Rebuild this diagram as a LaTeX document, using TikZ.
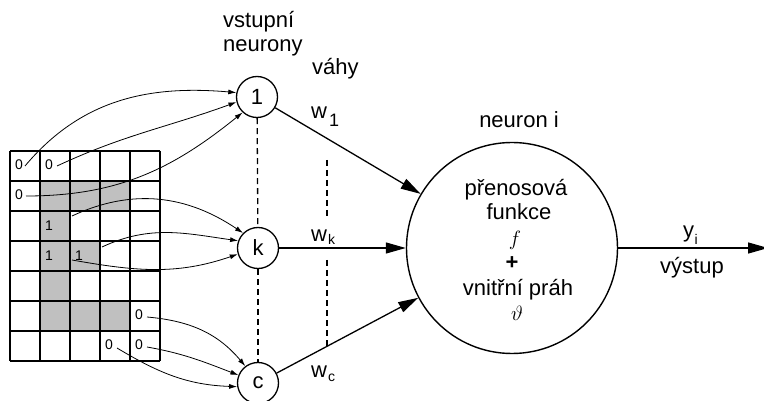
\documentclass[tikz,border=0pt]{standalone}
\usepackage{fontspec}
\setmainfont{Liberation Sans}
\usetikzlibrary{arrows.meta,calc}
\definecolor{cellgray}{RGB}{192,192,192}

\begin{document}
\begin{tikzpicture}[x=1pt,y=-1pt,
  txt/.style={inner sep=0pt,font=\fontsize{22}{26}\selectfont},
  small/.style={inner sep=0pt,font=\fontsize{14}{16}\selectfont},
  unit/.style={circle,draw,line width=1.3pt,minimum size=41pt,inner sep=0pt,font=\fontsize{22}{26}\selectfont},
  body/.style={circle,draw,line width=1.4pt,minimum size=211pt,inner sep=0pt},
  weight/.style={line width=1.3pt,-{Triangle[length=20pt,width=11pt]}},
  feed/.style={line width=0.8pt,-{Latex[length=8pt,width=5pt]}},
  link/.style={line width=1.3pt,dash pattern=on 6pt off 4pt},
  gridline/.style={line width=1.2pt}
]
\useasboundingbox (0,0) rectangle (764,401);

% shaded cells of the input pattern
\foreach \c/\r in {2/2,3/2,4/2,2/3,2/4,3/4,2/5,2/6,3/6,4/6}
  \fill[cellgray] ({10+30*(\c-1)},{151+30*(\r-1)}) rectangle +(30,30);
% grid lines (5 columns x 7 rows)
\foreach \i in {0,...,5}
  \draw[gridline] ({10+30*\i},151) -- ({10+30*\i},361);
\foreach \j in {0,...,7}
  \draw[gridline] (10,{151+30*\j}) -- (160,{151+30*\j});

% cell values
\node[small,anchor=west] (z11) at (15,165) {0};
\node[small,anchor=west] (z21) at (45,165) {0};
\node[small,anchor=west] (z12) at (15,195) {0};
\node[small,anchor=west] (o23) at (45,226) {1};
\node[small,anchor=west] (o24) at (45,256) {1};
\node[small,anchor=west] (o34) at (75,256) {1};
\node[small,anchor=west] (z56) at (135,315) {0};
\node[small,anchor=west] (z47) at (105,345) {0};
\node[small,anchor=west] (z57) at (135,345) {0};

% start points of the input connections
\coordinate (a1) at (25,166);
\coordinate (a2) at (57,166);
\coordinate (a3) at (26,196);
\coordinate (a4) at (72,216);
\coordinate (a5) at (102,247);
\coordinate (a6) at (72,260);
\coordinate (a7) at (147,317);
\coordinate (a8) at (147,347);
\coordinate (a9) at (117,348);

% neurons
\node[unit] (n1) at (257,97) {1};
\node[unit] (nk) at (258,248) {k};
\node[unit] (nc) at (258,383) {c};
\node[body] (ni) at (512,248) {};

% input connections
\draw[feed] (a1) to[out=50,in=175] (n1.168);
\draw[feed] (a2) to[out=25,in=200] (n1.194);
\draw[feed] (a3) to[out=0,in=219] (n1.227);
\draw[feed] (a4) to[out=25,in=146] (nk.135);
\draw[feed] (a5) to[out=25,in=172] (nk.160);
\draw[feed] (a6) to[out=-10,in=199] (nk.197);
\draw[feed] (a7) to[out=-5,in=130] (nc.127);
\draw[feed] (a8) to[out=-10,in=159] (nc.158);
\draw[feed] (a9) to[out=-31,in=178] (nc.190);

% dashed links
\draw[link] (n1) -- (nk);
\draw[link] (nk) -- (nc);
\coordinate (d1) at (327,160);
\coordinate (d2) at (327,346);
\draw[link] (d1) -- (d2);

% weight label on the middle connection masks the dashed line
\node[txt,anchor=base west,fill=white,text height=23pt,text depth=16pt] (wk) at (311,241)
  {w\hspace{1pt}\raisebox{-4pt}{\fontsize{14}{14}\selectfont k}};

% weighted connections and output
\draw[weight] (n1) -- (ni);
\draw[weight] (nk) -- (ni);
\draw[weight] (nc) -- (ni);
\coordinate (yo) at (768,248);
\draw[weight] (ni) -- (yo);

% labels
\node[txt,anchor=base west] (lin1) at (223,28) {vstupní};
\node[txt,anchor=base west] (lin2) at (223,52) {neurony};
\node[txt,anchor=base west] (lw) at (312,75) {váhy};
\node[txt,anchor=base west] (w1) at (311,119) {w\hspace{2pt}\raisebox{-8pt}{\fontsize{18}{18}\selectfont 1}};
\node[txt,anchor=base west] (wc) at (311,377) {w\hspace{1pt}\raisebox{-4pt}{\fontsize{14}{14}\selectfont c}};
\node[txt,anchor=base] (lni) at (519,128) {neuron i};
\node[txt,anchor=base] (t1) at (516,196) {přenosová};
\node[txt,anchor=base] (t2) at (519,220) {funkce};
\node[txt] (t3) at (515,240) {$f$};
\node[txt] (t4) at (512,263) {\textbf{+}};
\node[txt,anchor=base] (t5) at (518,295) {vnitřní práh};
\node[txt] (t6) at (517,313) {$\vartheta$};
\node[txt,anchor=base west] (yl) at (683,238) {y\hspace{0.5pt}\raisebox{-6pt}{\fontsize{14}{14}\selectfont i}};
\node[txt] (vy) at (692,268) {výstup};
\end{tikzpicture}
\end{document}
